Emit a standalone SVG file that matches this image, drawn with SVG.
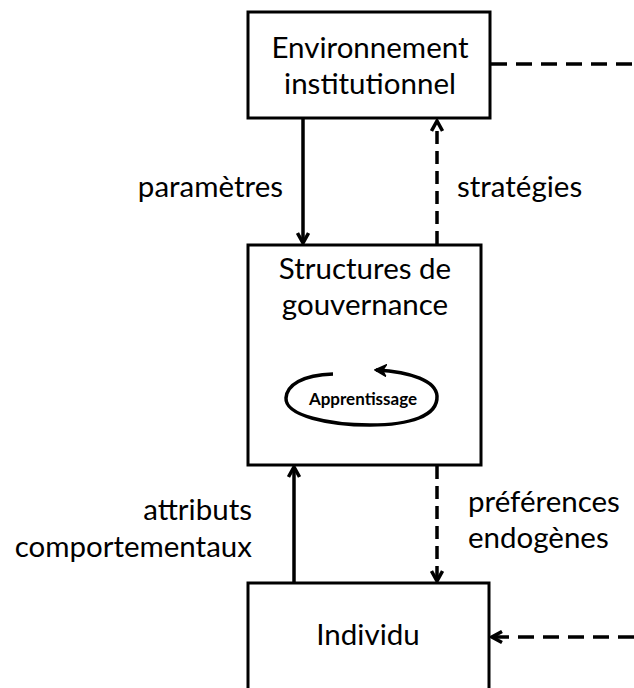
<svg xmlns="http://www.w3.org/2000/svg" width="634" height="688" viewBox="0 0 634 688">
<defs>
<style>
.box{fill:#fff;stroke:#000;stroke-width:3}
.t{font-family:Lato,"Liberation Sans",sans-serif;font-size:29.5px;fill:#000}
.c{stroke:#000;stroke-width:3.5;fill:none}
.d{stroke-dasharray:13,7}
.h{stroke-dasharray:16,9}
</style>
<marker id="ah" viewBox="0 0 14 14" refX="12" refY="7" markerWidth="14" markerHeight="14" markerUnits="userSpaceOnUse" orient="auto">
<path d="M2,1.5 L12,7 L2,12.5" fill="none" stroke="#000" stroke-width="3.5"/>
</marker>
<marker id="ah2" viewBox="0 0 12 12" refX="10" refY="6" markerWidth="13" markerHeight="13" markerUnits="userSpaceOnUse" orient="auto">
<path d="M1,1 L11,6 L1,11 L4,6 Z" fill="#000" stroke="#000" stroke-width="1.5"/>
</marker>
</defs>
<rect width="634" height="688" fill="#fff"/>
<g id="connectors">
<line class="c" x1="303" y1="119" x2="303" y2="243" marker-end="url(#ah)"/>
<line class="c d" x1="437" y1="244" x2="437" y2="121" marker-end="url(#ah)"/>
<line class="c" x1="294" y1="582" x2="294" y2="467" marker-end="url(#ah)"/>
<line class="c d" x1="437" y1="466" x2="437" y2="581" marker-end="url(#ah)"/>
<line class="c h" x1="491" y1="64" x2="634" y2="64"/>
<line class="c h" x1="634" y1="637" x2="492" y2="637" marker-end="url(#ah)"/>
</g>
<g id="env">
<rect class="box" x="248" y="12" width="242" height="106"/>
<text class="t" x="370" y="58" text-anchor="middle">Environnement</text>
<text class="t" x="370" y="94" text-anchor="middle">institutionnel</text>
</g>
<g id="gov">
<rect class="box" x="248" y="245" width="233" height="220"/>
<text class="t" x="365" y="279" text-anchor="middle">Structures de</text>
<text class="t" x="365" y="315" text-anchor="middle">gouvernance</text>
<path class="c" d="M333,374 C302,375 287,385 286,398 C285,416 330,425 370,425 C410,425 438,416 437,396 C436,381 412,372 376,370" marker-end="url(#ah2)"/>
<text x="363" y="405" text-anchor="middle" font-family="Lato,'Liberation Sans',sans-serif" font-size="17" font-weight="bold">Apprentissage</text>
</g>
<g id="ind">
<rect class="box" x="248" y="583" width="241" height="120"/>
<text class="t" x="368" y="645" text-anchor="middle">Individu</text>
</g>
<g id="labels">
<text class="t" x="283" y="197" text-anchor="end">paramètres</text>
<text class="t" x="457" y="197">stratégies</text>
<text class="t" x="252" y="520" text-anchor="end">attributs</text>
<text class="t" x="252" y="557" text-anchor="end">comportementaux</text>
<text class="t" x="468" y="512">préférences</text>
<text class="t" x="468" y="548">endogènes</text>
</g>
</svg>
